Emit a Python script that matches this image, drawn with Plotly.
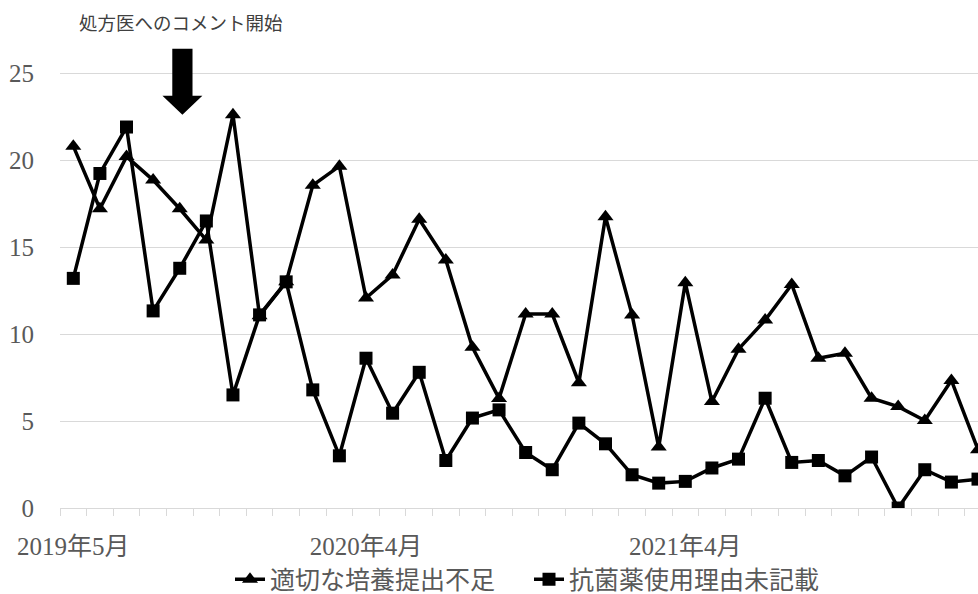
import plotly.graph_objects as go

months = ["2019年5月","2019年6月","2019年7月","2019年8月","2019年9月","2019年10月","2019年11月","2019年12月",
          "2020年1月","2020年2月","2020年3月","2020年4月","2020年5月","2020年6月","2020年7月","2020年8月",
          "2020年9月","2020年10月","2020年11月","2020年12月","2021年1月","2021年2月","2021年3月","2021年4月",
          "2021年5月","2021年6月","2021年7月","2021年8月","2021年9月","2021年10月","2021年11月","2021年12月",
          "2022年1月","2022年2月","2022年3月"]

culture = [20.8, 17.2, 20.2, 18.85, 17.2, 15.4, 22.6, 11.05, 13.0, 18.55, 19.65, 12.07,
           13.4, 16.6, 14.25, 9.24, 6.3, 11.15, 11.15, 7.2, 16.74, 11.1, 3.5, 12.95,
           6.12, 9.13, 10.8, 12.85, 8.61, 8.9, 6.31, 5.83, 5.03, 7.33, 3.35]

reason = [13.2, 19.23, 21.9, 11.33, 13.78, 16.5, 6.5, 11.1, 13.0, 6.79, 3.0, 8.61,
          5.45, 7.8, 2.73, 5.17, 5.64, 3.19, 2.2, 4.88, 3.69, 1.91, 1.43, 1.53,
          2.3, 2.81, 6.31, 2.62, 2.73, 1.85, 2.93, 0.0, 2.2, 1.49, 1.66]

series_names = ["適切な培養提出不足", "抗菌薬使用理由未記載"]
label_idx = [0, 11, 23]
ytick_vals = [0, 5, 10, 15, 20, 25]

FONT = "Liberation Serif, Noto Sans CJK JP, serif"
GRAY = "#595959"

x = list(range(len(months)))

fig = go.Figure()
fig.add_trace(go.Scatter(x=x, y=culture, name=series_names[0], mode="lines+markers",
                         line=dict(color="black", width=3.5),
                         marker=dict(symbol="triangle-up", size=14, color="black")))
fig.add_trace(go.Scatter(x=x, y=reason, name=series_names[1], mode="lines+markers",
                         line=dict(color="black", width=3.5),
                         marker=dict(symbol="square", size=13, color="black")))

# Down arrow marking the start of comments
ax0 = 4.1
fig.add_shape(type="path",
              path=(f"M {ax0-0.38} 26.4 L {ax0+0.38} 26.4 L {ax0+0.38} 23.7 L {ax0+0.75} 23.7 "
                    f"L {ax0} 22.6 L {ax0-0.75} 23.7 L {ax0-0.38} 23.7 Z"),
              xref="x", yref="y", fillcolor="black", line=dict(width=0))

fig.add_annotation(text="処方医へのコメント開始", xref="paper", yref="paper",
                   x=(181 - 60) / 918, y=(508.3 - 24) / 461.6, showarrow=False,
                   font=dict(family=FONT, size=18.5, color="#404040"), xanchor="center", yanchor="middle")

fig.update_layout(
    width=978, height=594,
    margin=dict(l=60, r=0, t=46.7, b=85.7, autoexpand=False),
    plot_bgcolor="white", paper_bgcolor="white",
    font=dict(family=FONT, color=GRAY, size=24),
    showlegend=True,
    legend=dict(orientation="h", x=(230 - 60) / 918, xanchor="left", y=-0.155, yanchor="middle",
                font=dict(family=FONT, size=25, color=GRAY), itemwidth=30,
                entrywidth=254, entrywidthmode="pixels",
                bgcolor="rgba(0,0,0,0)"),
    xaxis=dict(range=[-0.5, 34.0], tickmode="array", tickvals=label_idx,
               ticktext=[months[i] for i in label_idx],
               ticks="outside", ticklen=16, tickcolor="rgba(0,0,0,0)",
               showgrid=False, zeroline=False, showline=True, linecolor="#d9d9d9", linewidth=1,
               tickfont=dict(family=FONT, size=25, color=GRAY),
               minor=dict(tick0=-0.5, dtick=1, ticks="outside", ticklen=7, tickcolor="#d9d9d9",
                          tickwidth=1, showgrid=False)),
    yaxis=dict(range=[0, 26.5], tickmode="array", tickvals=ytick_vals,
               showgrid=True, gridcolor="#d9d9d9", gridwidth=1, zeroline=False,
               ticks="outside", ticklen=20, tickcolor="rgba(0,0,0,0)",
               tickfont=dict(family=FONT, size=25, color=GRAY)),
)

fig.write_html("out.html")
